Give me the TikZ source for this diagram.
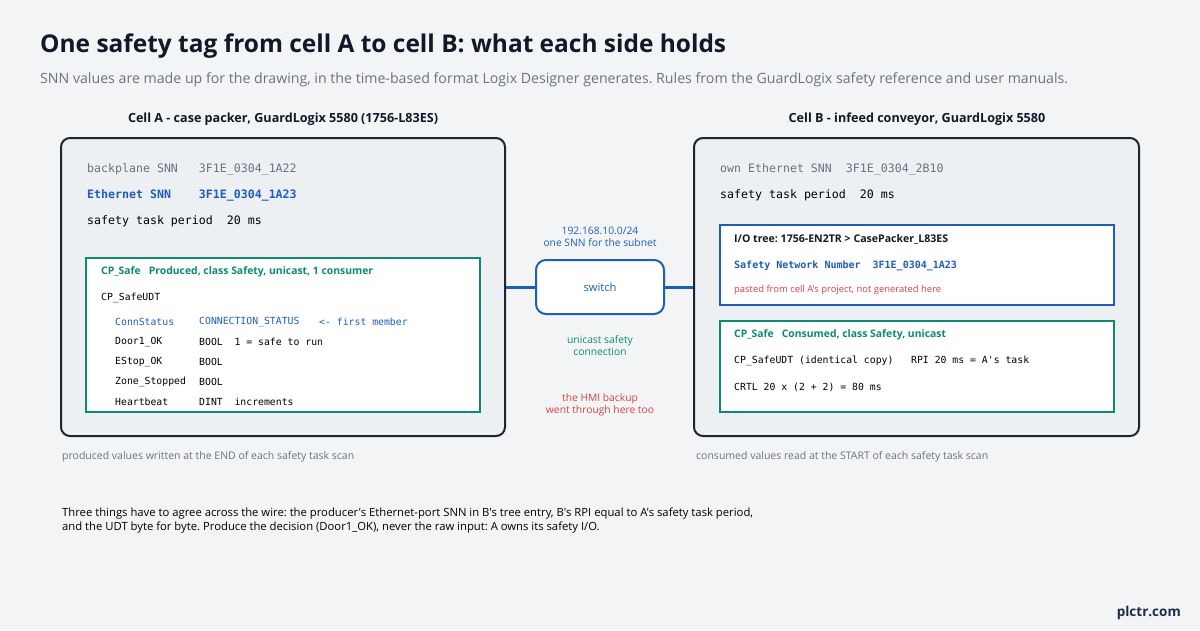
\documentclass[tikz,border=0pt]{standalone}
\usepackage{fontspec}
\setmainfont{Open Sans}[Ligatures=TeXOff]
\setmonofont{DejaVu Sans Mono}
\frenchspacing
\definecolor{bg}{HTML}{F3F4F6}
\definecolor{cellfill}{HTML}{EDF0F3}
\definecolor{cdark}{HTML}{1F252D}
\definecolor{cblue}{HTML}{1F5DBD}
\definecolor{cteal}{HTML}{0E8A72}
\definecolor{cred}{HTML}{D64343}
\definecolor{cgrey}{HTML}{6B7280}
\definecolor{ctitle}{HTML}{111827}
\definecolor{cnavy}{HTML}{1E2A4A}
\newlength\fitlen
\newcommand\calcfit[4]{%
  \settowidth\fitlen{#3\fontsize{10}{12}\selectfont #4}%
  \pgfmathsetmacro#1{10*#2/\fitlen}}
\newcommand\fsz[1]{\fontsize{#1}{1.25\dimexpr#1pt\relax}\selectfont}
\tikzset{
  cellbox/.style={draw=cdark, line width=2pt, fill=cellfill, rounded corners=9pt},
  tealbox/.style={draw=cteal, line width=2pt, fill=white},
  bluebox/.style={draw=cblue, line width=2pt, fill=white},
  swbox/.style={draw=cblue, line width=2pt, fill=white, rounded corners=10pt, text=cblue},
  wire/.style={draw=cblue, line width=3pt},
  lbl/.style={inner sep=0pt, anchor=west},
  ctr/.style={inner sep=0pt, align=center},
  monoL/.style={font=\ttfamily\fontsize{11.6}{14}\selectfont},
  monoS/.style={font=\ttfamily\fontsize{9.8}{12}\selectfont},
}
\begin{document}
\calcfit\fsTitle{686}{\bfseries}{One safety tag from cell A to cell B: what each side holds}%
\calcfit\fsSub{1028}{}{SNN values are made up for the drawing, in the time-based format Logix Designer generates. Rules from the GuardLogix safety reference and user manuals.}%
\calcfit\fsCell{310}{\bfseries}{Cell A - case packer, GuardLogix 5580 (1756-L83ES)}%
\calcfit\fsHdr{272}{\bfseries}{CP\_Safe\ \ \ Produced, class Safety, unicast, 1 consumer}%
\calcfit\fsIo{214}{\bfseries}{I/O tree: 1756-EN2TR > CasePacker\_L83ES}%
\calcfit\fsPaste{207}{}{pasted from cell A's project, not generated here}%
\calcfit\fsMid{113}{}{one SNN for the subnet}%
\calcfit\fsSw{33}{}{switch}%
\calcfit\fsFoot{292}{}{produced values written at the END of each safety task scan}%
\calcfit\fsNote{691}{}{Three things have to agree across the wire: the producer's Ethernet-port SNN in B's tree entry, B's RPI equal to A's safety task period,}%
\calcfit\fsBrand{64}{\bfseries}{plctr.com}%
\begin{tikzpicture}[x=1pt,y=-1pt]
\useasboundingbox[fill=bg] (0,0) rectangle (1200,630);
% title
\node[lbl, text=ctitle, font=\bfseries\fsz{\fsTitle}] (title) at (40,46) {One safety tag from cell A to cell B: what each side holds};
\node[lbl, text=cgrey, font=\fsz{\fsSub}] (sub) at (40,80) {SNN values are made up for the drawing, in the time-based format Logix Designer generates. Rules from the GuardLogix safety reference and user manuals.};
% cell headers
\node[ctr, text=ctitle, font=\bfseries\fsz{\fsCell}] (hA) at (283,119) {Cell A - case packer, GuardLogix 5580 (1756-L83ES)};
\node[ctr, text=ctitle, font=\bfseries\fsz{\fsCell}] (hB) at (917,119) {Cell B - infeed conveyor, GuardLogix 5580};
% cells
\node[cellbox, minimum width=444pt, minimum height=298pt, inner sep=0pt] (cellA) at (283,287) {};
\node[cellbox, minimum width=445pt, minimum height=298pt, inner sep=0pt] (cellB) at (916.5,287) {};
% cell A contents
\node[lbl, monoL, text=cgrey] (a1) at (87,169) {backplane SNN\ \ \ 3F1E\_0304\_1A22};
\node[lbl, text=cblue, font=\ttfamily\bfseries\fontsize{11.6}{14}\selectfont] (a2) at (87,195) {Ethernet SNN\ \ \ \ 3F1E\_0304\_1A23};
\node[lbl, monoL, text=black] (a3) at (87,221) {safety task period\ \ 20 ms};
\node[tealbox, minimum width=394pt, minimum height=154pt, inner sep=0pt] (prod) at (283,335) {};
\node[lbl, text=cteal, font=\bfseries\fsz{\fsHdr}] (ph) at (101,272) {CP\_Safe\ \ \ Produced, class Safety, unicast, 1 consumer};
\node[lbl, monoS, text=black] (pudt) at (101,298) {CP\_SafeUDT};
\node[lbl, monoS, text=cblue] (r1a) at (115,322) {ConnStatus};
\node[lbl, monoS, text=cblue] (r1b) at (199,322) {CONNECTION\_STATUS};
\node[lbl, monoS, text=cblue] (r1c) at (319,322) {<- first member};
\node[lbl, monoS, text=black] (r2a) at (115,342) {Door1\_OK};
\node[lbl, monoS, text=black] (r2b) at (199,342) {BOOL\ \ 1 = safe to run};
\node[lbl, monoS, text=black] (r3a) at (115,362) {EStop\_OK};
\node[lbl, monoS, text=black] (r3b) at (199,362) {BOOL};
\node[lbl, monoS, text=black] (r4a) at (115,382) {Zone\_Stopped};
\node[lbl, monoS, text=black] (r4b) at (199,382) {BOOL};
\node[lbl, monoS, text=black] (r5a) at (115,402) {Heartbeat};
\node[lbl, monoS, text=black] (r5b) at (199,402) {DINT\ \ increments};
% switch
\node[swbox, font=\fsz{\fsSw}, minimum width=128pt, minimum height=54pt, inner sep=0pt] (sw) at (600,287) {switch};
\draw[wire] (cellA.east) -- (sw.west);
\draw[wire] (sw.east) -- (cellB.west);
\node[ctr, text=cblue, font=\fontsize{\fsMid}{12}\selectfont] (net) at (600,237) {192.168.10.0/24\\one SNN for the subnet};
\node[ctr, text=cteal, font=\fontsize{\fsMid}{12}\selectfont] (uc) at (600,346) {unicast safety\\connection};
\node[ctr, text=cred, font=\fontsize{\fsMid}{12}\selectfont] (hmi) at (600,405) {the HMI backup\\went through here too};
% cell B contents
\node[lbl, monoL, text=cgrey] (b1) at (720,169) {own Ethernet SNN\ \ 3F1E\_0304\_2B10};
\node[lbl, monoL, text=black] (b2) at (720,195) {safety task period\ \ 20 ms};
\node[bluebox, minimum width=394pt, minimum height=80pt, inner sep=0pt] (io) at (917,265) {};
\node[lbl, text=ctitle, font=\bfseries\fsz{\fsIo}] (ioh) at (734,239) {I/O tree: 1756-EN2TR > CasePacker\_L83ES};
\node[lbl, text=cblue, font=\ttfamily\bfseries\fontsize{10}{12}\selectfont] (snn) at (734,266) {Safety Network Number\ \ 3F1E\_0304\_1A23};
\node[lbl, text=cred, font=\fsz{\fsPaste}] (paste) at (734,290) {pasted from cell A's project, not generated here};
\node[tealbox, minimum width=394pt, minimum height=91pt, inner sep=0pt] (cons) at (917,366.5) {};
\node[lbl, text=cteal, font=\bfseries\fsz{\fsHdr}] (chd) at (734,335) {CP\_Safe\ \ \ Consumed, class Safety, unicast};
\node[lbl, monoS, text=black] (c1) at (734,361) {CP\_SafeUDT (identical copy)\ \ \ RPI 20 ms = A's task};
\node[lbl, monoS, text=black] (c2) at (734,387) {CRTL 20 x (2 + 2) = 80 ms};
% footnotes
\node[lbl, text=cgrey, font=\fsz{\fsFoot}] (fA) at (62,457) {produced values written at the END of each safety task scan};
\node[lbl, text=cgrey, font=\fsz{\fsFoot}] (fB) at (696,457) {consumed values read at the START of each safety task scan};
\node[inner sep=0pt, anchor=west, align=left, text=black, font=\fontsize{\fsNote}{14}\selectfont] (note) at (62,521) {Three things have to agree across the wire: the producer's Ethernet-port SNN in B's tree entry, B's RPI equal to A's safety task period,\\and the UDT byte for byte. Produce the decision (Door1\_OK), never the raw input: A owns its safety I/O.};
\node[inner sep=0pt, anchor=east, text=cnavy, font=\bfseries\fsz{\fsBrand}] (brand) at (1181,613) {plctr.com};
\end{tikzpicture}
\end{document}
